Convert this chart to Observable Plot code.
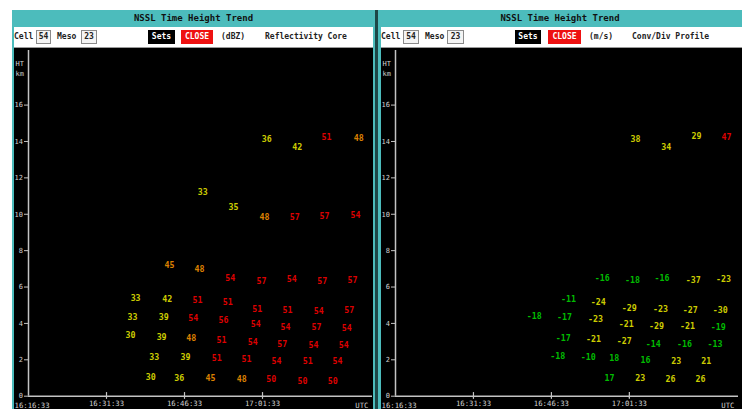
<!DOCTYPE html>
<html>
<head>
<meta charset="utf-8">
<script src="https://cdn.jsdelivr.net/npm/d3@7"></script>
<script src="https://cdn.jsdelivr.net/npm/@observablehq/plot@0.6"></script>
<style>
  html, body { margin: 0; padding: 0; background: #fff; }
  #root { position: relative; width: 746px; height: 409px; background: #fff; overflow: hidden;
          font-family: "DejaVu Sans Mono", monospace; }
  .panel { position: absolute; top: 10px; height: 399px; background: #4cbcbc; }
  .title { position: absolute; left: 0; top: 0; right: 0; height: 17px; line-height: 17px;
           text-align: center; font-size: 9px; font-weight: bold; color: #111; }
  .bar { position: absolute; top: 17px; height: 20px; background: #fff; border-bottom: 1px solid #9a9a9a; }
  .bar span { position: absolute; top: 0; height: 20px; line-height: 20px; font-size: 8px; font-weight: bold; color: #222; white-space: nowrap; }
  .bar .box { top: 3px; height: 12px; line-height: 12px; border: 1px solid #8a8a8a; background: #f4f4f4; text-align: center; }
  .bar .btn { top: 3px; height: 14px; line-height: 14px; text-align: center; color: #fff; }
  .plot { position: absolute; top: 38px; height: 361px; background: #000; }
  .sep { position: absolute; left: 375px; top: 10px; width: 3px; height: 399px; background: #1d4747; }
</style>
</head>
<body>
<div id="root">
  <div class="panel" style="left:12px;width:363px;">
    <div class="title">NSSL Time Height Trend</div>
    <div class="bar" style="left:2px;width:359px;">
      <span style="left:0px">Cell</span>
      <span class="box" style="left:22px;width:13px">54</span>
      <span style="left:43px">Meso</span>
      <span class="box" style="left:67px;width:14px">23</span>
      <span class="btn" style="left:134px;width:27px;background:#000">Sets</span>
      <span class="btn" style="left:167px;width:32px;background:#ee1111">CLOSE</span>
      <span style="left:207px">(dBZ)</span>
      <span style="left:251px">Reflectivity Core</span>
    </div>
    <div class="plot" id="left" style="left:2px;width:359px;"></div>
  </div>
  <div class="sep"></div>
  <div class="panel" style="left:378px;width:364px;">
    <div class="title">NSSL Time Height Trend</div>
    <div class="bar" style="left:3px;width:361px;">
      <span style="left:0px">Cell</span>
      <span class="box" style="left:22px;width:14px">54</span>
      <span style="left:44px">Meso</span>
      <span class="box" style="left:66px;width:15px">23</span>
      <span class="btn" style="left:134px;width:26px;background:#000">Sets</span>
      <span class="btn" style="left:167px;width:33px;background:#ee1111">CLOSE</span>
      <span style="left:208px">(m/s)</span>
      <span style="left:251px">Conv/Div Profile</span>
    </div>
    <div class="plot" id="right" style="left:3px;width:361px;"></div>
  </div>
</div>
<script>
// ---- Data (minutes after 16:16:33 UTC, height km, value) ----
const leftMinutes = [27.1,32.9,38.8,44.8,50.6,56.5,62.3,
  20.6,26.7,32.5,38.3,44.0,49.8,55.8,61.7,
  20.0,26.0,31.7,37.5,43.7,49.4,55.4,61.2,
  19.6,25.6,31.3,37.1,43.1,48.8,54.8,60.6,
  24.2,30.2,36.2,41.9,47.7,53.7,59.4,
  23.5,29.0,35.0,41.0,46.7,52.7,58.5,
  45.8,51.7,57.3,63.5,
  33.5,39.4,45.4,51.2,56.9,62.9];
const leftHeights = [7.18,6.96,6.47,6.30,6.41,6.30,6.36,
  5.37,5.31,5.26,5.15,4.76,4.71,4.65,4.71,
  4.32,4.32,4.27,4.16,3.94,3.77,3.77,3.72,
  3.34,3.23,3.18,3.07,2.96,2.84,2.79,2.79,
  2.13,2.13,2.07,2.02,1.91,1.91,1.91,
  1.03,0.97,0.97,0.92,0.92,0.81,0.81,
  14.1,13.67,14.21,14.16,
  11.19,10.37,9.82,9.82,9.87,9.93];
const leftValues = [45,48,54,57,54,57,57,
  33,42,51,51,51,51,54,57,
  33,39,54,56,54,54,57,54,
  30,39,48,51,54,57,54,54,
  33,39,51,51,54,51,54,
  30,36,45,48,50,50,50,
  36,42,51,48,
  33,35,48,57,57,54];

const rightMinutes = [46.2,52.1,57.9,63.7,
  39.8,45.6,51.3,57.3,63.1,
  33.3,39.0,45.0,51.0,56.7,62.5,
  26.7,32.5,38.5,44.4,50.2,56.2,62.1,
  32.3,38.1,44.0,49.6,55.6,61.5,
  31.2,37.1,42.1,48.1,54.0,59.8,
  41.2,47.1,52.9,58.7];
const rightHeights = [14.1,13.67,14.27,14.21,
  6.47,6.36,6.47,6.36,6.41,
  5.31,5.15,4.82,4.76,4.71,4.71,
  4.38,4.32,4.21,3.94,3.83,3.83,3.77,
  3.17,3.12,3.0,2.84,2.84,2.84,
  2.18,2.13,2.07,1.96,1.91,1.91,
  0.98,0.98,0.92,0.92];
const rightValues = [38,34,29,47,
  -16,-18,-16,-37,-23,
  -11,-24,-29,-23,-27,-30,
  -18,-17,-23,-21,-29,-21,-19,
  -17,-21,-27,-14,-16,-13,
  -18,-10,18,16,23,21,
  17,23,26,26];

const yTickValues = [0,2,4,6,8,10,12,14,16];
const xTickMinutes = [15,30,45];
const xTickLabels = ["16:31:33","16:46:33","17:01:33"];
const xStartLabel = "16:16:33";
const xEndLabel = "UTC";
const yAxisLabel = "HT\nkm";

const leftRows = leftMinutes.map((t,i) => ({t, h: leftHeights[i], v: leftValues[i]}));
const rightRows = rightMinutes.map((t,i) => ({t, h: rightHeights[i], v: rightValues[i]}));

function makePlot({rows, width, marginRight, xMax, colorDomain, colorRange, colorValue}) {
  const axisColor = "#c4c4c4";
  return Plot.plot({
    width, height: 361,
    marginLeft: 14, marginRight, marginTop: 2, marginBottom: 13.3,
    style: {background: "#000", fontFamily: "DejaVu Sans Mono, monospace", overflow: "visible"},
    x: {domain: [0, xMax], axis: null},
    y: {domain: [0, 19], axis: null},
    color: {type: "threshold", domain: colorDomain, range: colorRange},
    marks: [
      Plot.ruleY([0], {stroke: axisColor, strokeWidth: 1.5}),
      Plot.ruleX([0], {stroke: axisColor, strokeWidth: 1.5}),
      Plot.axisY({ticks: yTickValues, tickSize: 4, tickPadding: 1.5, label: null,
                  stroke: axisColor, fill: "#d0d0d0", fontSize: 7}),
      Plot.axisX({ticks: xTickMinutes, tickFormat: (d,i) => xTickLabels[i], tickSize: 3, tickPadding: 2,
                  label: null, stroke: axisColor, fill: "#d0d0d0", fontSize: 7.3}),
      Plot.ruleX(xTickMinutes, {x: d => d, y1: -0.16, y2: 0.2, stroke: axisColor, strokeWidth: 1.2}),
      Plot.text([xStartLabel], {x: 0, y: 0, text: d => d, textAnchor: "start", dx: -14, dy: 9.5,
                  fill: "#d0d0d0", fontSize: 7.3}),
      Plot.text([xEndLabel], {x: xMax, y: 0, text: d => d, textAnchor: "end", dx: -4, dy: 9.5,
                  fill: "#d0d0d0", fontSize: 7.3}),
      Plot.text([yAxisLabel], {frameAnchor: "top-left", text: d => d, textAnchor: "start",
                  dx: -13, dy: 9, lineHeight: 1.4, fill: "#d0d0d0", fontSize: 7}),
      Plot.text(rows, {x: "t", y: "h", text: d => String(d.v), fill: colorValue,
                  fontSize: 8.3, fontWeight: "bold"})
    ]
  });
}

document.getElementById("left").append(makePlot({
  rows: leftRows, width: 359, marginRight: 1, xMax: 66.15,
  colorDomain: [45, 50], colorRange: ["#cccc00", "#dd8000", "#dd0000"],
  colorValue: d => d.v
}));
document.getElementById("right").append(makePlot({
  rows: rightRows, width: 361, marginRight: 4, xMax: 66.0,
  colorDomain: [20, 40], colorRange: ["#00bb00", "#cccc00", "#dd0000"],
  colorValue: d => Math.abs(d.v)
}));
</script>
</body>
</html>
